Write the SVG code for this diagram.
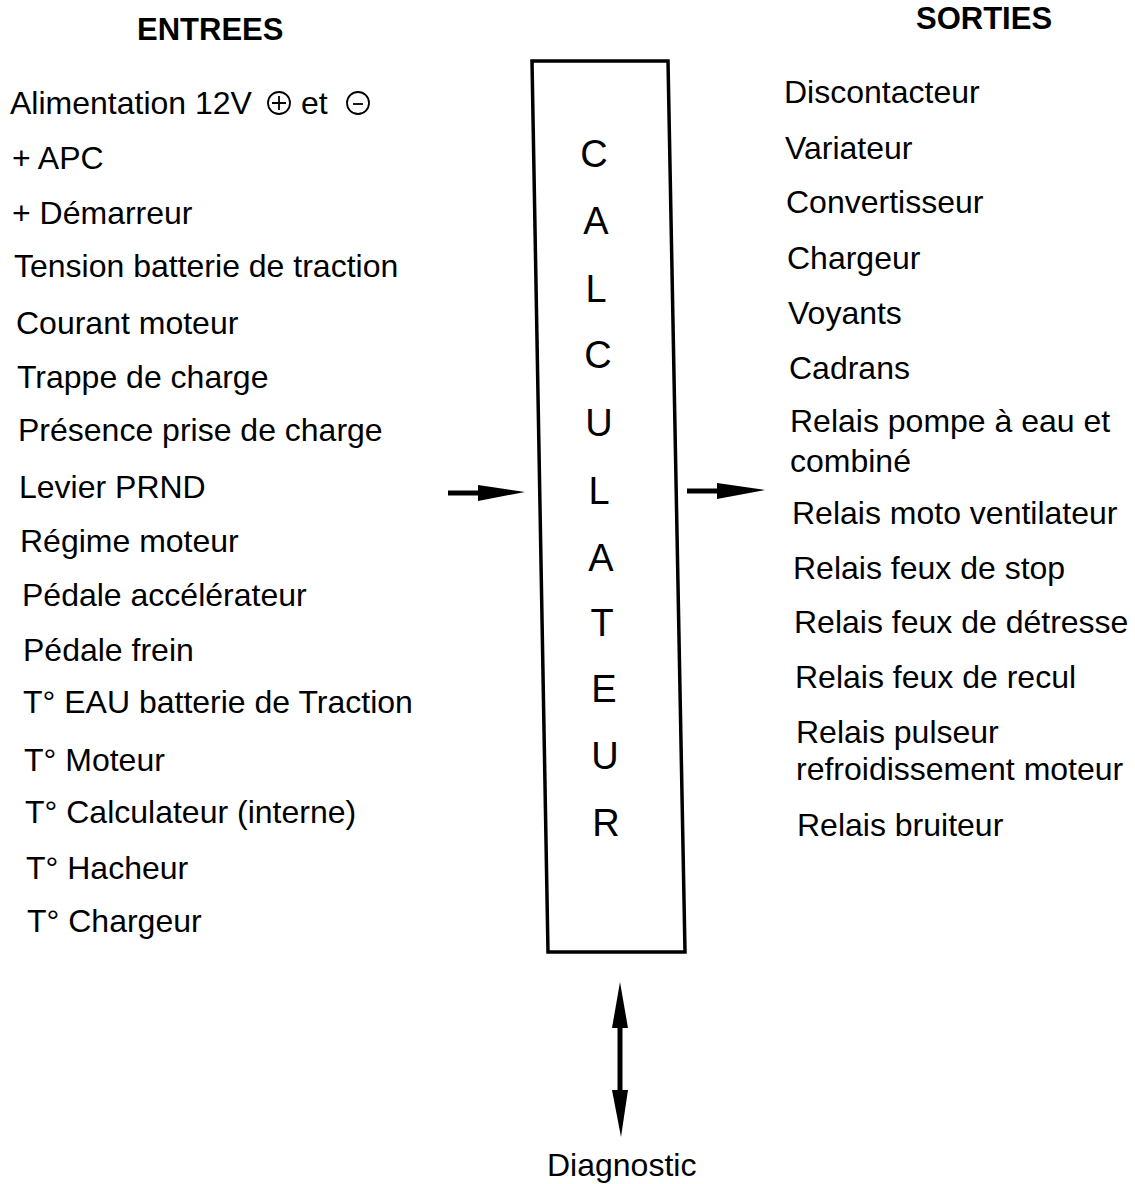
<svg xmlns="http://www.w3.org/2000/svg" width="1135" height="1184" viewBox="0 0 1135 1184">
<style>
text{font-family:"Liberation Sans",Arial,sans-serif;fill:#000}
.t{font-size:32px}
.h{font-size:31px;font-weight:bold}
.c{font-size:38px;text-anchor:middle}
.sym{fill:none;stroke:#000;stroke-width:1.8}
.shaft{stroke:#000;stroke-width:5;fill:none}
.head{fill:#000}
</style>
<rect width="1135" height="1184" fill="#fff"/>
<g id="entrees">
<text class="h" x="137" y="40">ENTREES</text>
<text class="t" x="10" y="114">Alimentation 12V</text>
<circle class="sym" cx="279" cy="103" r="11"/><path class="sym" d="M272 103h14M279 96v14"/>
<text class="t" x="301" y="114">et</text>
<circle class="sym" cx="358" cy="103" r="11"/><path class="sym" d="M353 104h10"/>
<text class="t" x="12" y="169">+ APC</text>
<text class="t" x="12" y="224">+ Démarreur</text>
<text class="t" x="14" y="277">Tension batterie de traction</text>
<text class="t" x="16" y="334">Courant moteur</text>
<text class="t" x="17" y="388">Trappe de charge</text>
<text class="t" x="18" y="441">Présence prise de charge</text>
<text class="t" x="19" y="498">Levier PRND</text>
<text class="t" x="20" y="552">Régime moteur</text>
<text class="t" x="22" y="606">Pédale accélérateur</text>
<text class="t" x="23" y="661">Pédale frein</text>
<text class="t" x="23" y="713">T° EAU batterie de Traction</text>
<text class="t" x="24" y="771">T° Moteur</text>
<text class="t" x="25" y="823">T° Calculateur (interne)</text>
<text class="t" x="26" y="879">T° Hacheur</text>
<text class="t" x="27" y="932">T° Chargeur</text>
</g>
<g id="calculateur">
<polygon points="532,61 668,61 685,952 548,952" fill="none" stroke="#000" stroke-width="3.5"/>
<text class="c" x="594" y="167">C</text>
<text class="c" x="596" y="234">A</text>
<text class="c" x="596" y="302">L</text>
<text class="c" x="598" y="368">C</text>
<text class="c" x="599" y="436">U</text>
<text class="c" x="599" y="504">L</text>
<text class="c" x="601" y="571">A</text>
<text class="c" x="602" y="636">T</text>
<text class="c" x="604" y="702">E</text>
<text class="c" x="605" y="769">U</text>
<text class="c" x="606" y="836">R</text>
</g>
<g id="sorties">
<text class="h" x="916" y="29">SORTIES</text>
<text class="t" x="784" y="103">Discontacteur</text>
<text class="t" x="785" y="159">Variateur</text>
<text class="t" x="786" y="213">Convertisseur</text>
<text class="t" x="787" y="269">Chargeur</text>
<text class="t" x="788" y="324">Voyants</text>
<text class="t" x="789" y="379">Cadrans</text>
<text class="t" x="790" y="432">Relais pompe à eau et</text>
<text class="t" x="790" y="472">combiné</text>
<text class="t" x="792" y="524">Relais moto ventilateur</text>
<text class="t" x="793" y="579">Relais feux de stop</text>
<text class="t" x="794" y="633">Relais feux de détresse</text>
<text class="t" x="795" y="688">Relais feux de recul</text>
<text class="t" x="796" y="743">Relais pulseur</text>
<text class="t" x="796" y="780">refroidissement moteur</text>
<text class="t" x="797" y="836">Relais bruiteur</text>
</g>
<g id="diagnostic">
<text class="t" x="547" y="1176">Diagnostic</text>
</g>
<g id="connectors">
<line class="shaft" x1="448" y1="493" x2="485" y2="493"/>
<polygon class="head" points="478,485 525,492 478,501"/>
<line class="shaft" x1="687" y1="491" x2="722" y2="491"/>
<polygon class="head" points="717,483 765,490 717,499"/>
<line class="shaft" x1="620" y1="1020" x2="620" y2="1098"/>
<polygon class="head" points="620,982 628,1028 612,1028"/>
<polygon class="head" points="612,1090 628,1090 621,1137"/>
</g>
</svg>
